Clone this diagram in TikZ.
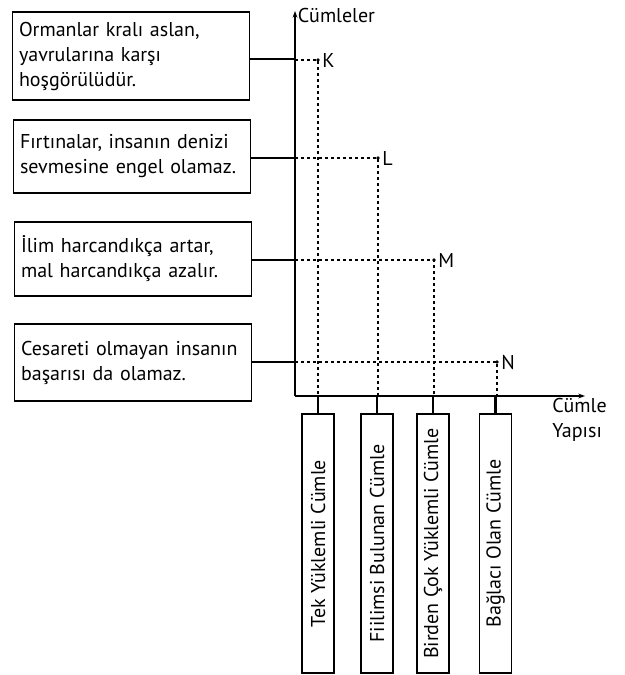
\documentclass[tikz,border=0pt]{standalone}
\usepackage{fontspec}
\setmainfont{PT Sans}
\usetikzlibrary{arrows.meta}
\begin{document}
\begin{tikzpicture}[x=0.75pt,y=-0.75pt,>={Stealth[length=5pt,width=3.6pt]},
  font=\fontsize{15}{18.75}\selectfont,
  sent/.style={draw,line width=0.8pt,anchor=west,align=left,text width=168pt,inner xsep=4.85pt,minimum width=177.75pt},
  yapi/.style={draw,line width=0.8pt,rotate=90,minimum width=194.25pt,minimum height=24pt,inner sep=0pt},
  axis/.style={line width=2.2pt},
  dots/.style={line width=1.1pt,dash pattern=on 2.4pt off 2.1pt}]
\useasboundingbox (0,0) rectangle (625,675);
% axes
\coordinate (O) at (295,396);
\draw[axis,->] (O)--(295,11) node[right,inner sep=1pt,yshift=-3pt]{Cümleler};
\draw[axis,->] (O)--(585,396);
\node[align=left,anchor=north west,inner sep=0pt] (cy) at (552,398) {Cümle\\Yapısı};
% sentences
\node[sent,minimum height=66pt] (s1) at (12,56) {Ormanlar kralı aslan,\\yavrularına karşı\\hoşgörülüdür.};
\node[sent,minimum height=54.75pt] (s2) at (13,156.5) {Fırtınalar, insanın denizi\\sevmesine engel olamaz.};
\node[sent,minimum height=55.5pt] (s3) at (14,259) {İlim harcandıkça artar,\\mal harcandıkça azalır.};
\node[sent,minimum height=57.75pt] (s4) at (14,362.5) {Cesareti olmayan insanın\\başarısı da olamaz.};
\foreach \s/\y in {s1/59,s2/158,s3/260,s4/362}
  \draw[axis] (\s.east |- 0,\y)--(295,\y);
% points
\coordinate (K) at (318,60);
\coordinate (L) at (378,158);
\coordinate (M) at (434,260);
\coordinate (N) at (497,362);
\foreach \p in {K,L,M,N}{
  \draw[dots] (\p -| O)--(\p)--(\p |- O);
  \fill (\p) circle (1.8);
  \node[right,inner sep=3pt] at (\p) {\p};
}
% structures
\node[yapi] (t1) at (318,543.5) {Tek Yüklemli Cümle};
\node[yapi] (t2) at (377,543.5) {Fiilimsi Bulunan Cümle};
\node[yapi] (t3) at (433,543.5) {Birden Çok Yüklemli Cümle};
\node[yapi] (t4) at (495.5,543.5) {Bağlacı Olan Cümle};
\foreach \t in {t1,t2,t3,t4}
  \draw[axis] (\t.east)--(\t.east |- O);
\end{tikzpicture}
\end{document}
